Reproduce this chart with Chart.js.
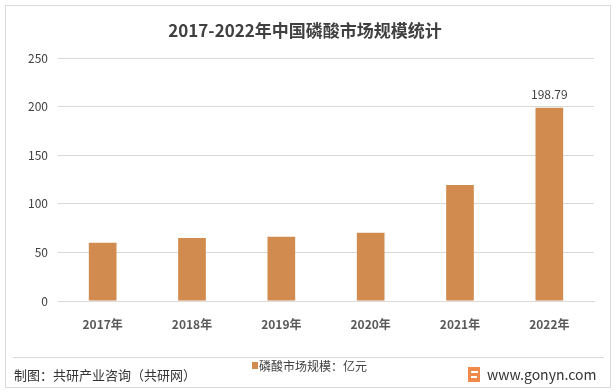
<!DOCTYPE html>
<html>
<head>
<meta charset="utf-8">
<script src="https://cdn.jsdelivr.net/npm/chart.js@4"></script>
<style>
  html, body { margin: 0; padding: 0; background: #fff; }
  #wrap { position: relative; width: 616px; height: 392px; }
</style>
</head>
<body>
<div id="wrap"><canvas id="chartCanvas" width="616" height="392"></canvas></div>
<script>
  // data
  const years = ['2017年', '2018年', '2019年', '2020年', '2021年', '2022年'];
  const marketSize = [59.8, 64.9, 66.0, 70.3, 119.4, 198.79];
  const yTicks = [0, 50, 100, 150, 200, 250];
  const seriesName = '磷酸市场规模：亿元';
  const titleText = '2017-2022年中国磷酸市场规模统计';
  const sourceText = '制图：共研产业咨询（共研网）';
  const siteText = 'www.gonyn.com';

  const cjk = '"Noto Sans CJK SC", "Noto Sans", sans-serif';
  const barColor = '#D28B4E';

  // frame, title, footer and legend
  const decor = {
    id: 'decor',
    beforeDraw(c) {
      const g = c.ctx;
      g.save();
      g.fillStyle = '#fff';
      g.fillRect(0, 0, c.width, c.height);
      g.restore();
    },
    afterDraw(c) {
      const g = c.ctx;
      g.save();
      g.strokeStyle = '#d9d9d9';
      g.lineWidth = 1;
      g.strokeRect(5.5, 5.5, 605, 382);
      g.beginPath();
      g.moveTo(13, 357.5);
      g.lineTo(604, 357.5);
      g.stroke();

      g.fillStyle = '#404040';
      g.font = 'bold 17px ' + cjk;
      g.textAlign = 'center';
      g.textBaseline = 'middle';
      g.fillText(titleText, 305, 31);

      g.fillStyle = '#333';
      g.font = '13px ' + cjk;
      g.textAlign = 'left';
      g.fillText(sourceText, 14, 375);

      g.fillStyle = barColor;
      g.fillRect(252, 362, 6, 7);
      g.fillStyle = '#404040';
      g.font = '12px ' + cjk;
      g.fillText(seriesName, 259, 366);

      // logo mark
      g.fillStyle = '#F08A4B';
      g.fillRect(468, 367, 12, 15);
      g.fillStyle = '#fff';
      g.fillRect(471, 371, 7, 2);
      g.fillRect(471, 376, 6, 2);
      g.fillStyle = '#333';
      g.font = '14px ' + cjk;
      g.fillText(siteText, 487, 375);
      g.restore();
    }
  };

  const ctx = document.getElementById('chartCanvas').getContext('2d');
  const chart = new Chart(ctx, {
    type: 'bar',
    data: {
      labels: years,
      datasets: [{
        label: seriesName,
        data: marketSize,
        backgroundColor: barColor,
        barPercentage: 0.62,
        categoryPercentage: 0.5
      }]
    },
    options: {
      responsive: false,
      animation: false,
      devicePixelRatio: 1,
      layout: { padding: { left: 13, right: 22, top: 58, bottom: 61 } },
      plugins: {
        legend: { display: false },
        title: { display: false },
        tooltip: { enabled: false }
      },
      scales: {
        x: {
          grid: { display: false },
          border: { color: '#d9d9d9' },
          ticks: {
            color: '#595959',
            font: { family: cjk, size: 12, weight: 'bold' },
            padding: 8
          },
          afterFit(s) { s.height = 30; }
        },
        y: {
          min: 0,
          max: 250,
          afterBuildTicks(s) { s.ticks = yTicks.map(v => ({ value: v })); },
          grid: { color: '#d9d9d9', drawTicks: false },
          border: { display: false },
          ticks: {
            color: '#404040',
            font: { family: cjk, size: 12 },
            padding: 10
          },
          afterFit(s) { s.width = 45; }
        }
      }
    },
    plugins: [decor, {
      id: 'lastLabel',
      afterDatasetsDraw(c) {
        const meta = c.getDatasetMeta(0);
        const i = marketSize.length - 1;
        const bar = meta.data[i];
        const g = c.ctx;
        g.save();
        g.fillStyle = '#404040';
        g.font = '12px ' + cjk;
        g.textAlign = 'center';
        g.textBaseline = 'middle';
        g.fillText(marketSize[i].toFixed(2), bar.x, bar.y - 13);
        g.restore();
      }
    }]
  });
</script>
</body>
</html>
